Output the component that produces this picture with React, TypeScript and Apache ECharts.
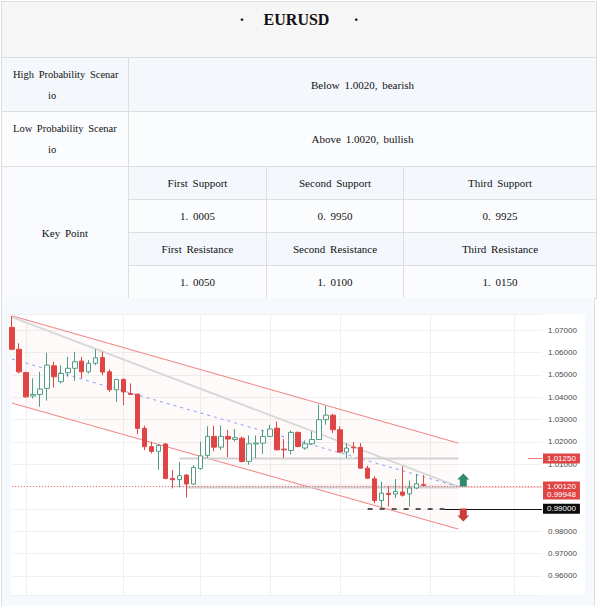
import React, { useEffect, useRef } from 'react';
import * as echarts from 'echarts';

// ---------- data ----------
const dates = [
  '2022-06-09','2022-06-10','2022-06-13','2022-06-14','2022-06-15','2022-06-16','2022-06-17','2022-06-20','2022-06-21','2022-06-22',
  '2022-06-23','2022-06-24','2022-06-27','2022-06-28','2022-06-29','2022-06-30','2022-07-01','2022-07-04','2022-07-05','2022-07-06',
  '2022-07-07','2022-07-08','2022-07-11','2022-07-12','2022-07-13','2022-07-14','2022-07-15','2022-07-18','2022-07-19','2022-07-20',
  '2022-07-21','2022-07-22','2022-07-25','2022-07-26','2022-07-27','2022-07-28','2022-07-29','2022-08-01','2022-08-02','2022-08-03',
  '2022-08-04','2022-08-05','2022-08-08','2022-08-09','2022-08-10','2022-08-11','2022-08-12','2022-08-15','2022-08-16','2022-08-17',
  '2022-08-18','2022-08-19','2022-08-22','2022-08-23','2022-08-24','2022-08-25','2022-08-26','2022-08-29','2022-08-30','2022-08-31',
  '2022-09-01','2022-09-02','2022-09-05','2022-09-06','2022-09-07','2022-09-08','2022-09-09','2022-09-12','2022-09-13','2022-09-14',
  '2022-09-15','2022-09-16','2022-09-19','2022-09-20','2022-09-21','2022-09-22','2022-09-23',
];
const gridDates = ['2022-06-13', '2022-07-01', '2022-07-18', '2022-08-01', '2022-08-15', '2022-09-01', '2022-09-19'];

const opens = [
  1.0712, 1.0614, 1.0510, 1.0405, 1.0412, 1.0439, 1.0540, 1.0469, 1.0509, 1.0529,
  1.0561, 1.0513, 1.0551, 1.0577, 1.0513, 1.0433, 1.0479, 1.0416, 1.0413, 1.0260,
  1.0178, 1.0157, 1.0190, 1.0036, 1.0031, 1.0051, 1.0011, 1.0080, 1.0139, 1.0224,
  1.0176, 1.0224, 1.0210, 1.0216, 1.0112, 1.0190, 1.0194, 1.0224, 1.0261, 1.0167,
  1.0161, 1.0242, 1.0172, 1.0191, 1.0210, 1.0299, 1.0319, 1.0254, 1.0154, 1.0176,
  1.0175, 1.0082, 1.0034, 0.9937, 0.9969, 0.9966, 0.9975, 0.9967, 0.9993, 1.0008,
];
const closes = [
  1.0614, 1.0513, 1.0401, 1.0412, 1.0436, 1.0543, 1.0491, 1.0506, 1.0529, 1.0558,
  1.0513, 1.0551, 1.0576, 1.0512, 1.0433, 1.0479, 1.0423, 1.0412, 1.0260, 1.0178,
  1.0157, 1.0183, 1.0036, 1.0030, 1.0048, 1.0011, 1.0085, 1.0137, 1.0224, 1.0176,
  1.0224, 1.0212, 1.0218, 1.0112, 1.0191, 1.0194, 1.0224, 1.0257, 1.0164, 1.0164,
  1.0242, 1.0179, 1.0191, 1.0210, 1.0299, 1.0319, 1.0254, 1.0154, 1.0172, 1.0173,
  1.0082, 1.0037, 0.9937, 0.9970, 0.9964, 0.9978, 0.9961, 0.9993, 1.0012, 1.0004,
];
const lows = [
  1.0610, 1.0506, 1.0398, 1.0394, 1.0357, 1.0384, 1.0443, 1.0461, 1.0491, 1.0473,
  1.0484, 1.0506, 1.0543, 1.0498, 1.0423, 1.0379, 1.0364, 1.0409, 1.0234, 1.0163,
  1.0148, 1.0074, 1.0032, 0.9991, 0.9996, 0.9951, 1.0008, 1.0075, 1.0127, 1.0157,
  1.0164, 1.0131, 1.0201, 1.0107, 1.0097, 1.0127, 1.0146, 1.0221, 1.0161, 1.0127,
  1.0143, 1.0176, 1.0164, 1.0187, 1.0209, 1.0276, 1.0239, 1.0149, 1.0127, 1.0150,
  1.0079, 1.0034, 0.9925, 0.9903, 0.9910, 0.9948, 0.9955, 0.9910, 0.9988, 1.0003,
];
const highs = [
  1.0763, 1.0641, 1.0513, 1.0484, 1.0513, 1.0598, 1.0558, 1.0543, 1.0580, 1.0603,
  1.0580, 1.0566, 1.0614, 1.0603, 1.0524, 1.0481, 1.0484, 1.0461, 1.0416, 1.0272,
  1.0200, 1.0188, 1.0193, 1.0073, 1.0110, 1.0055, 1.0096, 1.0200, 1.0269, 1.0272,
  1.0273, 1.0254, 1.0257, 1.0224, 1.0228, 1.0228, 1.0254, 1.0276, 1.0291, 1.0212,
  1.0251, 1.0246, 1.0206, 1.0246, 1.0366, 1.0361, 1.0325, 1.0269, 1.0194, 1.0199,
  1.0194, 1.0093, 1.0045, 1.0022, 1.0000, 1.0033, 1.0090, 1.0027, 1.0057, 1.0050,
];

// drawn lines: [startIndex, startValue, endIndex, endValue]
const channelUpper = [0, 1.0764, 64, 1.0194];
const channelLower = [0, 1.0373, 64, 0.9809];
const grayTrend = [0, 1.0758, 64, 0.9999];
const blueTrend = [0, 1.0570, 64, 0.9999];
const resistLevel = [24, 1.0125, 64, 1.0125];
const supportLevel = [25, 0.99948, 64, 0.99948];
const lastPrice = 1.0012;
const targetLevel = 0.99;
const upArrowAt = [65, 1.00285];
const downArrowAt = [65, 0.98719];
const supportTagAt = 0.99636; // where the 0.99948 tag sits, pushed below the 1.00120 tag

const yMin = 0.9514;
const yMax = 1.0772;

const RED = '#e04545';
const GREEN = '#4f9e83';

const seg = (s: number[]) => [[s[0], s[1]], [s[2], s[3]]];

function buildOption() {
  const candleData = opens.map((o, i) => [o, closes[i], lows[i], highs[i]]);
  const labelBase = {
    show: true,
    position: 'end',
    distance: 1,
    color: '#fff',
    fontSize: 8,
    fontFamily: 'Liberation Sans, Arial, sans-serif',
    lineHeight: 10,
    padding: [0, 4, 0, 4],
    backgroundColor: RED,
  };
  const lineSeries = (s: number[], lineStyle: any, z = 2) => ({
    type: 'line',
    data: seg(s),
    symbol: 'none',
    silent: true,
    z,
    lineStyle,
  });
  return {
    animation: false,
    grid: { left: 12, right: 56, top: 16, bottom: 11 },
    xAxis: {
      type: 'category',
      data: dates,
      boundaryGap: false,
      axisLine: { show: false },
      axisTick: { show: false },
      axisLabel: { show: false },
      splitLine: {
        show: true,
        interval: (_i: number, v: string) => gridDates.includes(v),
        lineStyle: { color: '#efefef', width: 1 },
      },
    },
    yAxis: {
      type: 'value',
      position: 'right',
      min: yMin,
      max: yMax,
      splitNumber: 13,
      axisLine: { show: false },
      axisTick: { show: false },
      splitLine: { show: true, lineStyle: { color: '#f0f0f0', width: 1 } },
      axisLabel: {
        showMinLabel: false,
        showMaxLabel: false,
        color: '#4a4a4a',
        fontSize: 8,
        fontFamily: 'Liberation Sans, Arial, sans-serif',
        margin: 6,
        formatter: (v: number) => {
          const r = Math.round(v * 100);
          return Math.abs(v * 100 - r) < 1e-6 ? (r / 100).toFixed(5) : '';
        },
      },
    },
    series: [
      {
        type: 'custom',
        silent: true,
        z: 1,
        data: [[channelUpper[0], channelUpper[1]]],
        renderItem: (_p: any, api: any) => {
          const pts = [
            api.coord([channelUpper[0], channelUpper[1]]),
            api.coord([channelUpper[2], channelUpper[3]]),
            api.coord([channelLower[2], channelLower[3]]),
            api.coord([channelLower[0], channelLower[1]]),
          ];
          return { type: 'polygon', shape: { points: pts }, style: { fill: 'rgba(235, 80, 110, 0.03)' } };
        },
      },
      lineSeries(channelUpper, { color: '#f08282', width: 1 }),
      lineSeries(channelLower, { color: '#f08282', width: 1 }),
      lineSeries(grayTrend, { color: '#d8d8d8', width: 2 }),
      lineSeries(blueTrend, { color: '#86a0f2', width: 1, type: [3, 4] }),
      lineSeries(resistLevel, { color: '#d2d2d2', width: 2 }),
      {
        ...lineSeries(supportLevel, { color: '#cfcfcf', width: 2 }),
        markArea: {
          silent: true,
          itemStyle: { color: 'rgba(240, 110, 120, 0.08)' },
          data: [[{ coord: [23, lastPrice] }, { coord: [64, supportLevel[1]] }]],
        },
      },
      {
        type: 'candlestick',
        z: 5,
        barWidth: 5,
        data: candleData,
        itemStyle: {
          color: '#ffffff',
          color0: RED,
          borderColor: GREEN,
          borderColor0: RED,
          borderWidth: 1,
        },
        markLine: {
          symbol: ['none', 'none'],
          silent: true,
          label: labelBase,
          data: [
            {
              yAxis: lastPrice,
              lineStyle: { color: '#ef6b6b', type: [1, 2], width: 1 },
              label: { ...labelBase, formatter: '1.00120' },
            },
            [
              { coord: [74, resistLevel[1]], lineStyle: { color: '#f08080', width: 1, type: 'solid' }, label: { ...labelBase, formatter: '1.01250' } },
              { coord: [76, resistLevel[1]] },
            ],
            [
              { coord: [64, supportLevel[1]], lineStyle: { color: 'rgba(240,120,120,0.35)', width: 1, type: 'solid' }, label: { show: false } },
              { coord: [76, supportLevel[1]] },
            ],
            [
              { coord: [75, supportTagAt], lineStyle: { color: 'rgba(0,0,0,0)', width: 1, type: 'solid' }, label: { ...labelBase, formatter: '0.99948' } },
              { coord: [76, supportTagAt] },
            ],
            [
              { coord: [51, targetLevel], lineStyle: { color: '#222', width: 1.5, type: [5, 7] }, label: { show: false } },
              { coord: [62, targetLevel] },
            ],
            [
              { coord: [62, targetLevel], lineStyle: { color: '#111', width: 1.2, type: 'solid' }, label: { ...labelBase, backgroundColor: '#0d0d0d', formatter: '0.99000' } },
              { coord: [76, targetLevel] },
            ],
          ],
        },
        markPoint: {
          silent: true,
          label: { show: false },
          data: [
            {
              coord: upArrowAt,
              symbol: 'path://M6 0 L12 6 L9.5 6 L9.5 13 L2.5 13 L2.5 6 L0 6 Z',
              symbolSize: [12, 13],
              symbolOffset: [-2, 0],
              itemStyle: { color: '#2f8a6e' },
            },
            {
              coord: downArrowAt,
              symbol: 'path://M2.5 0 L9.5 0 L9.5 7 L12 7 L6 13 L0 7 L2.5 7 Z',
              symbolSize: [12, 13],
              symbolOffset: [-2, 0],
              itemStyle: { color: '#c93d3d' },
            },
          ],
        },
      },
    ],
  };
}

// ---------- table ----------
const BORDER = '1px solid #dedede';

function Cell(props: { x: number; y: number; w: number; h: number; bg: string; children?: any; style?: any }) {
  const { x, y, w, h, bg, children, style } = props;
  return (
    <div
      style={{
        position: 'absolute',
        left: x,
        top: y,
        width: w,
        height: h,
        boxSizing: 'border-box',
        border: BORDER,
        background: bg,
        display: 'flex',
        alignItems: 'center',
        justifyContent: 'center',
        fontSize: 11,
        wordSpacing: 2,
        ...style,
      }}
    >
      {children}
    </div>
  );
}

const colX = [128, 266, 403];
const colW = [139, 138, 194];
const supportHeaders = ['First Support', 'Second Support', 'Third Support'];
const supportValues = ['1. 0005', '0. 9950', '0. 9925'];
const resistHeaders = ['First Resistance', 'Second Resistance', 'Third Resistance'];
const resistValues = ['1. 0050', '1. 0100', '1. 0150'];

const HEAD_BG = '#f4f8fd';
const VAL_BG = '#fbfcfe';

export default function App() {
  const ref = useRef<HTMLDivElement>(null);
  useEffect(() => {
    if (!ref.current) return;
    const chart = echarts.init(ref.current, null, { renderer: 'svg' });
    chart.setOption(buildOption() as any);
    return () => chart.dispose();
  }, []);

  const scenario = (a: string, b: string) => (
    <div style={{ width: '100%', fontSize: 10.5, lineHeight: '21px', textAlign: 'left' }}>
      <div style={{ paddingLeft: 11 }}>{a}</div>
      <div style={{ paddingLeft: 46 }}>{b}</div>
    </div>
  );

  return (
    <div
      style={{
        position: 'absolute',
        left: 0,
        top: 0,
        width: 598,
        height: 606,
        overflow: 'hidden',
        background: '#fff',
        fontFamily: "'Liberation Serif', 'Times New Roman', serif",
        color: '#111',
      }}
    >
      <Cell x={1} y={1} w={596} h={57} bg="#f6f6f6" style={{ alignItems: 'flex-start', paddingTop: 8 }}>
        <div style={{ display: 'flex', alignItems: 'center', fontWeight: 'bold', fontSize: 16, lineHeight: '20px' }}>
          <span style={{ marginRight: 19 }}>·</span>
          <span>EURUSD</span>
          <span style={{ marginLeft: 24 }}>·</span>
        </div>
      </Cell>

      <Cell x={1} y={57} w={128} h={55} bg={HEAD_BG}>{scenario('High Probability Scenar', 'io')}</Cell>
      <Cell x={128} y={57} w={469} h={55} bg={HEAD_BG}>Below 1.0020, bearish</Cell>

      <Cell x={1} y={111} w={128} h={56} bg={VAL_BG}>{scenario('Low Probability Scenar', 'io')}</Cell>
      <Cell x={128} y={111} w={469} h={56} bg={VAL_BG}>Above 1.0020, bullish</Cell>

      <Cell x={1} y={166} w={128} h={133} bg="#f8fafd">Key Point</Cell>
      {supportHeaders.map((t, i) => (
        <Cell key={'sh' + i} x={colX[i]} y={166} w={colW[i]} h={34} bg={HEAD_BG}>{t}</Cell>
      ))}
      {supportValues.map((t, i) => (
        <Cell key={'sv' + i} x={colX[i]} y={199} w={colW[i]} h={34} bg={VAL_BG}>{t}</Cell>
      ))}
      {resistHeaders.map((t, i) => (
        <Cell key={'rh' + i} x={colX[i]} y={232} w={colW[i]} h={34} bg={HEAD_BG}>{t}</Cell>
      ))}
      {resistValues.map((t, i) => (
        <Cell key={'rv' + i} x={colX[i]} y={265} w={colW[i]} h={34} bg={VAL_BG}>{t}</Cell>
      ))}

      <div
        style={{
          position: 'absolute',
          left: 1,
          top: 298,
          width: 594,
          height: 308,
          boxSizing: 'border-box',
          borderLeft: BORDER,
          borderRight: BORDER,
          background: '#f5f8fc',
        }}
      />
      <div style={{ position: 'absolute', left: 11, top: 314, width: 574, height: 281, background: '#ffffff' }} />
      <div ref={ref} style={{ position: 'absolute', left: 0, top: 298, width: 598, height: 308 }} />
    </div>
  );
}
